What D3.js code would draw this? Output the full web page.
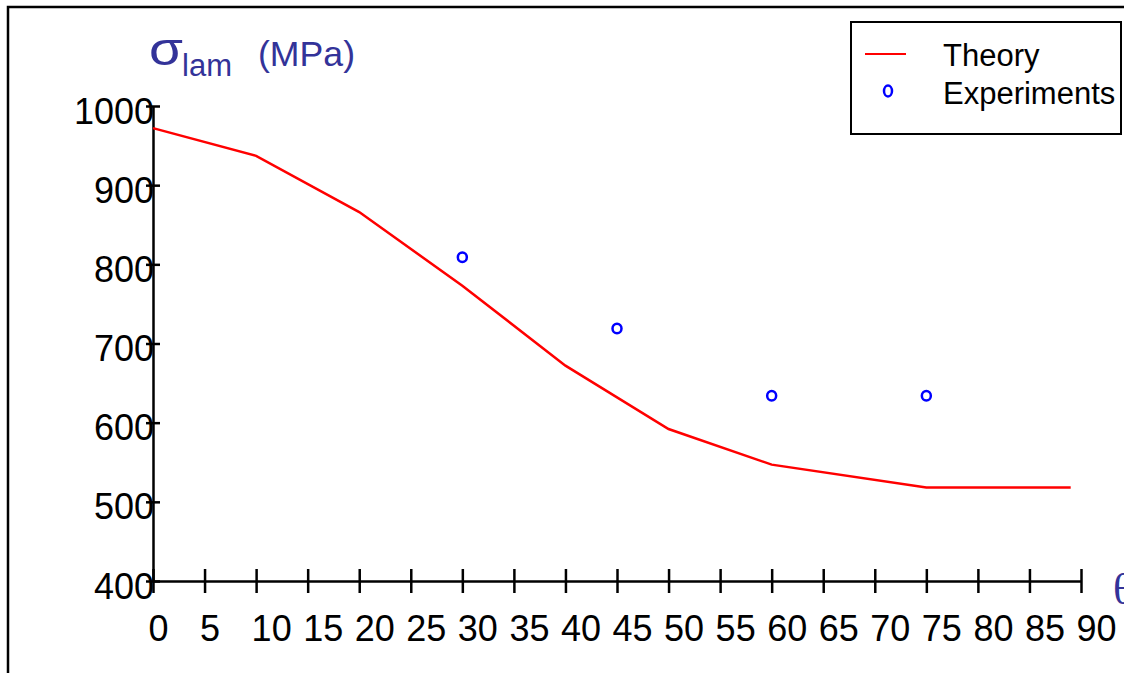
<!DOCTYPE html>
<html>
<head>
<meta charset="utf-8">
<script src="https://cdn.jsdelivr.net/npm/d3@7"></script>
<style>
  body { margin: 0; background: #fff; }
  svg { display: block; }
  text { font-family: "Liberation Sans", Arial, sans-serif; }
</style>
</head>
<body>
<div id="chart"></div>
<script>
// theory curve (angle in degrees, strength in MPa)
let theoryAngle = [0, 10, 20, 30, 40, 50, 60, 75, 89];
let theoryValue = [972, 937, 866, 773, 672, 592, 547, 518, 518];

// experimental points
let expAngle = [30, 45, 60, 75];
let expValue = [809, 719, 634, 634];

let xTicks = [0, 5, 10, 15, 20, 25, 30, 35, 40, 45, 50, 55, 60, 65, 70, 75, 80, 85, 90];
let yTicks = [400, 500, 600, 700, 800, 900, 1000];

let W = 1124, H = 673;
let blue = "#333399";

let svg = d3.select("#chart").append("svg")
    .attr("width", W)
    .attr("height", H);

// outer frame (only top and left visible)
svg.append("path")
    .attr("d", "M8," + H + "V7H" + W)
    .attr("fill", "none")
    .attr("stroke", "#000")
    .attr("stroke-width", 2.5);

let x = d3.scaleLinear().domain([0, 90]).range([153, 1081]);
let y = d3.scaleLinear().domain([400, 1000]).range([581, 106]);

/* x axis */
let xAxis = d3.axisBottom(x).tickValues(xTicks).tickSize(0).tickFormat(d3.format("d"));
let xg = svg.append("g")
    .attr("transform", "translate(0," + y(400) + ")")
    .call(xAxis);
xg.select(".domain").attr("stroke", "#000").attr("stroke-width", 2.5);
xg.selectAll(".tick line")
    .attr("y1", -12).attr("y2", 12)
    .attr("stroke", "#000").attr("stroke-width", 2.5);
xg.selectAll(".tick text")
    .attr("y", 60).attr("dy", null)
    .attr("text-anchor", "start")
    .attr("dx", -5)
    .attr("fill", "#000")
    .style("font-size", "36px");

/* y axis */
let yAxis = d3.axisLeft(y).tickValues(yTicks).tickSize(0).tickFormat(d3.format("d"));
let yg = svg.append("g")
    .attr("transform", "translate(" + x(0) + ",0)")
    .call(yAxis);
yg.select(".domain").attr("stroke", "#000").attr("stroke-width", 2.5);
yg.selectAll(".tick line")
    .attr("x1", -7).attr("x2", 7)
    .attr("stroke", "#000").attr("stroke-width", 2.5);
yg.selectAll(".tick text")
    .attr("x", 1).attr("dy", null).attr("y", 17)
    .attr("text-anchor", "end")
    .attr("fill", "#000")
    .style("font-size", "36px");

/* theory line */
let theory = theoryAngle.map(function(d, i) { return [d, theoryValue[i]]; });
let line = d3.line()
    .x(function(d) { return x(d[0]); })
    .y(function(d) { return y(d[1]); });

svg.append("path")
    .datum(theory)
    .attr("d", line)
    .attr("fill", "none")
    .attr("stroke", "#ff0000")
    .attr("stroke-width", 2.5);

/* experiments */
let exps = expAngle.map(function(d, i) { return [d, expValue[i]]; });
svg.selectAll(".exp")
    .data(exps)
    .enter()
    .append("ellipse")
    .attr("class", "exp")
    .attr("cx", function(d) { return x(d[0]); })
    .attr("cy", function(d) { return y(d[1]); })
    .attr("rx", 4.5)
    .attr("ry", 4.8)
    .attr("fill", "none")
    .attr("stroke", "#0000ff")
    .attr("stroke-width", 2.5);

/* axis titles */
svg.append("text")
    .attr("x", 149).attr("y", 65)
    .attr("fill", blue)
    .attr("textLength", 34)
    .attr("lengthAdjust", "spacingAndGlyphs")
    .style("font-size", "46px")
    .text("σ");
svg.append("text")
    .attr("x", 182).attr("y", 76)
    .attr("fill", blue)
    .style("font-size", "31px")
    .text("lam");
svg.append("text")
    .attr("x", 258).attr("y", 66)
    .attr("fill", blue)
    .attr("textLength", 97)
    .attr("lengthAdjust", "spacingAndGlyphs")
    .style("font-size", "35px")
    .text("(MPa)");

svg.append("text")
    .attr("x", 1113).attr("y", 604)
    .attr("fill", blue)
    .style("font-family", "'Liberation Serif', 'Times New Roman', serif")
    .style("font-size", "44px")
    .text("θ");

/* legend */
let legend = svg.append("g");
legend.append("rect")
    .attr("x", 851).attr("y", 22)
    .attr("width", 270).attr("height", 112)
    .attr("fill", "#fff")
    .attr("stroke", "#000")
    .attr("stroke-width", 2);
legend.append("line")
    .attr("x1", 865).attr("x2", 906)
    .attr("y1", 54).attr("y2", 54)
    .attr("stroke", "#ff0000")
    .attr("stroke-width", 2);
legend.append("ellipse")
    .attr("cx", 888).attr("cy", 91)
    .attr("rx", 4).attr("ry", 5.5)
    .attr("fill", "none")
    .attr("stroke", "#0000ff")
    .attr("stroke-width", 2.5);
legend.append("text")
    .attr("x", 943).attr("y", 66)
    .attr("fill", "#000")
    .style("font-size", "31px")
    .text("Theory");
legend.append("text")
    .attr("x", 943).attr("y", 104)
    .attr("fill", "#000")
    .style("font-size", "31px")
    .text("Experiments");
</script>
</body>
</html>
